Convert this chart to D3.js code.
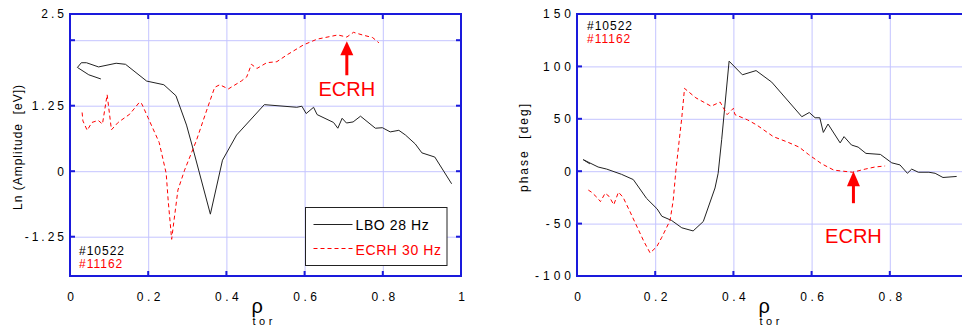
<!DOCTYPE html>
<html>
<head>
  <title>LBO / ECRH amplitude and phase</title>
  <meta charset="utf-8">
  <style>
    body { margin: 0; background: #fff; }
    svg { display: block; font-family: Arial, "Liberation Sans", Helvetica, sans-serif; }
    .keep-space { white-space: pre; }
  </style>
  <script src="https://cdn.jsdelivr.net/npm/d3@7"></script>
</head>
<body>
  <div id="chart"></div>
  <script>
    // --- left panel: Ln(amplitude) ---
    const lboAmpRho = [0.079, 0.048, 0.019, 0.029, 0.042, 0.073, 0.118, 0.142, 0.196, 0.240, 0.271, 0.298, 0.312, 0.359, 0.390, 0.426, 0.497, 0.580, 0.593, 0.604, 0.623, 0.632, 0.674, 0.685, 0.696, 0.707, 0.724, 0.743, 0.781, 0.799, 0.819, 0.841, 0.858, 0.883, 0.900, 0.933, 0.976];
    const lboAmp = [1.76, 1.84, 1.98, 2.07, 2.07, 1.99, 2.06, 2.04, 1.72, 1.65, 1.44, 0.88, 0.50, -0.82, 0.21, 0.69, 1.27, 1.22, 1.24, 1.10, 1.22, 1.08, 0.93, 0.82, 1.01, 0.92, 0.94, 1.05, 0.82, 0.83, 0.75, 0.78, 0.69, 0.52, 0.35, 0.27, -0.24];
    const ecrhAmpRho = [0.031, 0.033, 0.044, 0.056, 0.072, 0.083, 0.095, 0.106, 0.123, 0.153, 0.178, 0.184, 0.199, 0.228, 0.246, 0.251, 0.260, 0.266, 0.276, 0.293, 0.323, 0.349, 0.370, 0.383, 0.405, 0.438, 0.452, 0.464, 0.478, 0.503, 0.529, 0.555, 0.597, 0.632, 0.685, 0.708, 0.725, 0.748, 0.774, 0.790];
    const ecrhAmp = [1.12, 0.96, 0.78, 0.93, 0.97, 0.90, 1.46, 0.79, 0.93, 1.09, 1.32, 1.28, 1.03, 0.55, -0.04, -0.55, -1.30, -0.94, -0.36, 0.02, 0.58, 1.15, 1.60, 1.65, 1.57, 1.72, 1.80, 2.04, 1.96, 2.07, 2.09, 2.22, 2.41, 2.52, 2.60, 2.56, 2.65, 2.60, 2.55, 2.45];

    // --- right panel: phase ---
    const lboPhaseRho = [0.033, 0.016, 0.054, 0.076, 0.114, 0.144, 0.178, 0.205, 0.217, 0.242, 0.268, 0.297, 0.323, 0.353, 0.361, 0.370, 0.389, 0.423, 0.458, 0.498, 0.575, 0.594, 0.609, 0.621, 0.630, 0.642, 0.673, 0.683, 0.702, 0.719, 0.739, 0.776, 0.805, 0.826, 0.845, 0.856, 0.873, 0.900, 0.916, 0.936, 0.971];
    const lboPhase = [7, 11, 4, 2, -3, -8, -26, -36, -43, -47, -54, -57, -48, -16, -2, 30, 105, 92, 96, 85, 52, 56, 51, 51, 37, 45, 27, 33, 25, 23, 17, 16, 8, 6, -2, 2, -1, -1, -2, -6, -5];
    const ecrhPhaseRho = [0.029, 0.037, 0.051, 0.060, 0.072, 0.082, 0.094, 0.106, 0.118, 0.136, 0.171, 0.187, 0.204, 0.217, 0.238, 0.246, 0.253, 0.261, 0.268, 0.275, 0.304, 0.343, 0.366, 0.384, 0.400, 0.404, 0.436, 0.460, 0.502, 0.537, 0.568, 0.592, 0.626, 0.657, 0.705, 0.737, 0.762, 0.788];
    const ecrhPhase = [-18, -20, -25, -29, -21, -24, -32, -20, -25, -39, -67, -78, -72, -63, -47, -28, 1, 28, 51, 79, 70, 62, 66, 54, 60, 54, 49, 44, 33, 28, 23, 16, 7, 1, -1, 2, 4, 5];

    // ticks
    const xTicksLeft = [0, 0.2, 0.4, 0.6, 0.8, 1];
    const xTicksRight = [0, 0.2, 0.4, 0.6, 0.8];
    const ampGrid = [-1.25, 0, 1.25, 2.5];
    const ampTickAt = [-1.25, 0, 1.25, 3];
    const ampTickText = ["-1.25", "0", "1.25", "2.5"];
    const phaseGrid = [-50, 0, 50, 100];
    const phaseTickAt = [-100, -50, 0, 50, 100, 150];
    const phaseTickText = ["-100", "-50", "0", "50", "100", "150"];

    const shots = ["#10522", "#11162"];
    const seriesNames = ["LBO 28 Hz", "ECRH 30 Hz"];
    const ecrhMarkRho = [0.708, 0.707];
    const ecrhMarkVal = [2.48, 0];

    const blue = "#1a1adc", gridBlue = "#c4c4ff", red = "#ff0000", black = "#222";

    const svg = d3.select("#chart").append("svg")
      .attr("width", 962)
      .attr("height", 327);

    svg.append("rect").attr("width", 962).attr("height", 327).attr("fill", "#fff");

    const panels = [
      {
        id: "amp", left: 70, right: 461, top: 14, bottom: 276, yDomain: [-2, 3],
        xTicks: xTicksLeft, grid: ampGrid, tickAt: ampTickAt, tickText: ampTickText, ySpacing: 3,
        ylabel: "Ln (Amplitude  [eV])", ylabelX: 22, ylabelSpacing: 1,
        lbo: [lboAmpRho, lboAmp], ecrh: [ecrhAmpRho, ecrhAmp],
        shotX: 79, shotY: 255, mark: 0, markGap: 14, markShaft: 20, markText: 55, legend: true
      },
      {
        id: "phase", left: 577, right: 968, top: 14, bottom: 276, yDomain: [-100, 150],
        xTicks: xTicksRight, grid: phaseGrid, tickAt: phaseTickAt, tickText: phaseTickText, ySpacing: 4,
        ylabel: "phase  [deg]", ylabelX: 528, ylabelSpacing: 2,
        lbo: [lboPhaseRho, lboPhase], ecrh: [ecrhPhaseRho, ecrhPhase],
        shotX: 587, shotY: 30, mark: 1, markGap: 15, markShaft: 17, markText: 72, legend: false
      }
    ];

    panels.forEach(p => {
      const x = d3.scaleLinear().domain([0, 1]).range([p.left, p.right]);
      const y = d3.scaleLinear().domain(p.yDomain).range([p.bottom, p.top]);
      const w = p.right - p.left, h = p.bottom - p.top;
      const g = svg.append("g");

      svg.append("clipPath").attr("id", "clip-" + p.id)
        .append("rect").attr("x", p.left).attr("y", p.top).attr("width", w).attr("height", h);

      // grid lines (axes with long inner ticks)
      g.append("g")
        .attr("transform", `translate(0,${p.bottom})`)
        .call(d3.axisBottom(x).tickValues(p.xTicks.filter(t => t > 0 && t < 1)).tickSize(-h).tickFormat(""))
        .call(a => a.select(".domain").remove())
        .selectAll("line").attr("stroke", gridBlue).attr("stroke-width", 1);
      g.append("g")
        .attr("transform", `translate(${p.left},0)`)
        .call(d3.axisLeft(y).tickValues(p.grid).tickSize(-w).tickFormat(""))
        .call(a => a.select(".domain").remove())
        .selectAll("line").attr("stroke", gridBlue).attr("stroke-width", 1);

      // curves
      const line = d3.line().x(d => x(d[0])).y(d => y(d[1]));
      const plot = g.append("g").attr("clip-path", `url(#clip-${p.id})`);
      plot.append("path")
        .datum(p.lbo[0].map((r, i) => [r, p.lbo[1][i]]))
        .attr("fill", "none").attr("stroke", black).attr("stroke-width", 1)
        .attr("d", line);
      plot.append("path")
        .datum(p.ecrh[0].map((r, i) => [r, p.ecrh[1][i]]))
        .attr("fill", "none").attr("stroke", red).attr("stroke-width", 1)
        .attr("stroke-dasharray", "4,3")
        .attr("d", line);

      // inward ticks on all four sides
      const tickLen = 5;
      [[p.bottom, -1], [p.top, 1]].forEach(([yy, s]) => {
        g.selectAll(null).data(p.xTicks).enter().append("line")
          .attr("x1", d => x(d)).attr("x2", d => x(d))
          .attr("y1", yy).attr("y2", yy + s * tickLen)
          .attr("stroke", blue).attr("stroke-width", 2);
      });
      [[p.left, 1], [p.right, -1]].forEach(([xx, s]) => {
        g.selectAll(null).data(p.grid).enter().append("line")
          .attr("x1", xx).attr("x2", xx + s * tickLen)
          .attr("y1", d => y(d)).attr("y2", d => y(d))
          .attr("stroke", blue).attr("stroke-width", 2);
      });

      // frame
      g.append("rect")
        .attr("x", p.left).attr("y", p.top).attr("width", w).attr("height", h)
        .attr("fill", "none").attr("stroke", blue).attr("stroke-width", 2);

      // tick labels
      const xAx = g.append("g")
        .attr("transform", `translate(0,${p.bottom})`)
        .call(d3.axisBottom(x).tickValues(p.xTicks).tickSize(0).tickPadding(16).tickFormat(d3.format("")));
      xAx.select(".domain").remove();
      xAx.selectAll("text")
        .attr("font-size", 12).attr("fill", "#000").attr("font-family", "Arial, 'Liberation Sans', sans-serif")
        .attr("letter-spacing", 3.5).attr("dx", 1.75);

      const yAx = g.append("g")
        .attr("transform", `translate(${p.left},0)`)
        .call(d3.axisLeft(y).tickValues(p.tickAt).tickSize(0).tickPadding(6 - p.ySpacing)
          .tickFormat((d, i) => p.tickText[i]));
      yAx.select(".domain").remove();
      yAx.selectAll("text")
        .attr("font-size", 12).attr("fill", "#000").attr("font-family", "Arial, 'Liberation Sans', sans-serif")
        .attr("letter-spacing", p.ySpacing);

      // axis titles
      g.append("text")
        .attr("class", "keep-space")
        .attr("transform", `translate(${p.ylabelX},${(p.top + p.bottom) / 2 + 2}) rotate(-90)`)
        .attr("text-anchor", "middle")
        .attr("font-size", 12)
        .attr("letter-spacing", p.ylabelSpacing)
        .text(p.ylabel);

      g.append("text")
        .attr("x", x(0.5) - 14).attr("y", 313)
        .attr("font-size", 20)
        .text("ρ");
      g.append("text")
        .attr("x", x(0.5) - 13).attr("y", 325)
        .attr("font-size", 11)
        .attr("letter-spacing", 3.5)
        .text("tor");

      // shot numbers
      g.selectAll(null).data(shots).enter().append("text")
        .attr("x", p.shotX)
        .attr("y", (d, i) => p.shotY + i * 12.8)
        .attr("font-size", 12)
        .attr("letter-spacing", 1)
        .attr("fill", (d, i) => i === 0 ? "#000" : red)
        .text(d => d);

      // ECRH deposition marker
      const mx = x(ecrhMarkRho[p.mark]), my = y(ecrhMarkVal[p.mark]);
      g.append("path")
        .attr("d", `M${mx},${my} L${mx - 6.5},${my + p.markGap} L${mx + 6.5},${my + p.markGap} Z`)
        .attr("fill", red);
      g.append("line")
        .attr("x1", mx).attr("x2", mx)
        .attr("y1", my + p.markGap - 1).attr("y2", my + p.markGap + p.markShaft)
        .attr("stroke", red).attr("stroke-width", 3);
      g.append("text")
        .attr("x", mx).attr("y", my + p.markText)
        .attr("text-anchor", "middle")
        .attr("font-size", 20)
        .attr("fill", red)
        .text("ECRH");

      if (p.legend) {
        const lg = g.append("g").attr("transform", "translate(305.5,207.5)");
        lg.append("rect")
          .attr("width", 141.5).attr("height", 58)
          .attr("fill", "#fff").attr("stroke", black).attr("stroke-width", 1);
        seriesNames.forEach((name, i) => {
          lg.append("line")
            .attr("x1", 8).attr("x2", 47)
            .attr("y1", 17 + i * 24).attr("y2", 17 + i * 24)
            .attr("stroke", i === 0 ? black : red).attr("stroke-width", 1)
            .attr("stroke-dasharray", i === 0 ? null : "4,3");
          lg.append("text")
            .attr("x", 50).attr("y", 22 + i * 25.5)
            .attr("font-size", 14)
            .attr("letter-spacing", 0.6)
            .attr("fill", i === 0 ? "#000" : red)
            .text(name);
        });
      }
    });
  </script>
</body>
</html>
